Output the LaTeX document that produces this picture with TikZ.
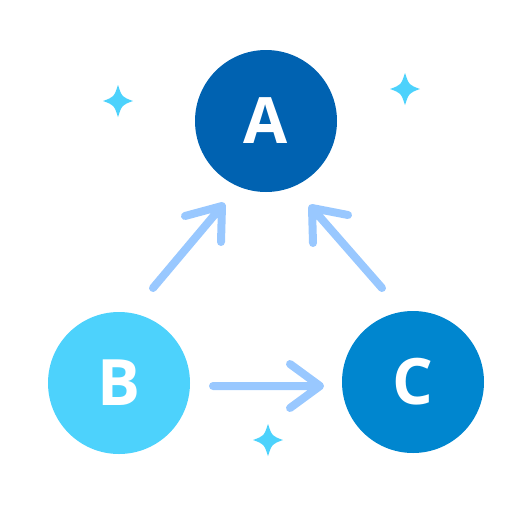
\documentclass[tikz,border=0pt]{standalone}
\usepackage{fontspec}
\setmainfont{Open Sans}
\definecolor{cA}{HTML}{0062B1}
\definecolor{cB}{HTML}{4DD2FC}
\definecolor{cC}{HTML}{0086CF}
\definecolor{arrc}{HTML}{99C8FF}
\definecolor{spk}{HTML}{4DD2FC}
\begin{document}
\begin{tikzpicture}[x=1pt,y=-1pt,
  ball/.style={circle,minimum size=142pt,inner sep=0pt,text=white,font=\fontsize{64}{64}\selectfont\bfseries},
  arr/.style={draw=arrc,line width=8pt,line cap=round,line join=round},
  sparkle/.pic={\fill[spk] (0,-16) .. controls (4,-4) .. (15,0) .. controls (4,4) .. (0,16) .. controls (-4,4) .. (-15,0) .. controls (-4,-4) .. cycle;}]
\useasboundingbox (0,0) rectangle (512,512);
\node[ball,fill=cA] (A) at (266,121) {A};
\node[ball,fill=cB] (B) at (119,383) {B};
\node[ball,fill=cC] (C) at (413,382) {C};
% arrow B -> A
\coordinate (ba1) at (153,288);
\coordinate (ba2) at (222,206);
\draw[arr] (ba1) -- (ba2) (185,216) -- (ba2) -- (221,242);
% arrow C -> A
\coordinate (ca1) at (382,288);
\coordinate (ca2) at (312,208);
\draw[arr] (ca1) -- (ca2) (348,215) -- (ca2) -- (313,243);
% arrow B -> C
\coordinate (bc1) at (213,386);
\coordinate (bc2) at (320,386);
\draw[arr] (bc1) -- (bc2) (290,364) -- (bc2) -- (290,408);
\pic at (118,101) {sparkle};
\pic at (405,89) {sparkle};
\pic at (268,440) {sparkle};
\end{tikzpicture}
\end{document}
